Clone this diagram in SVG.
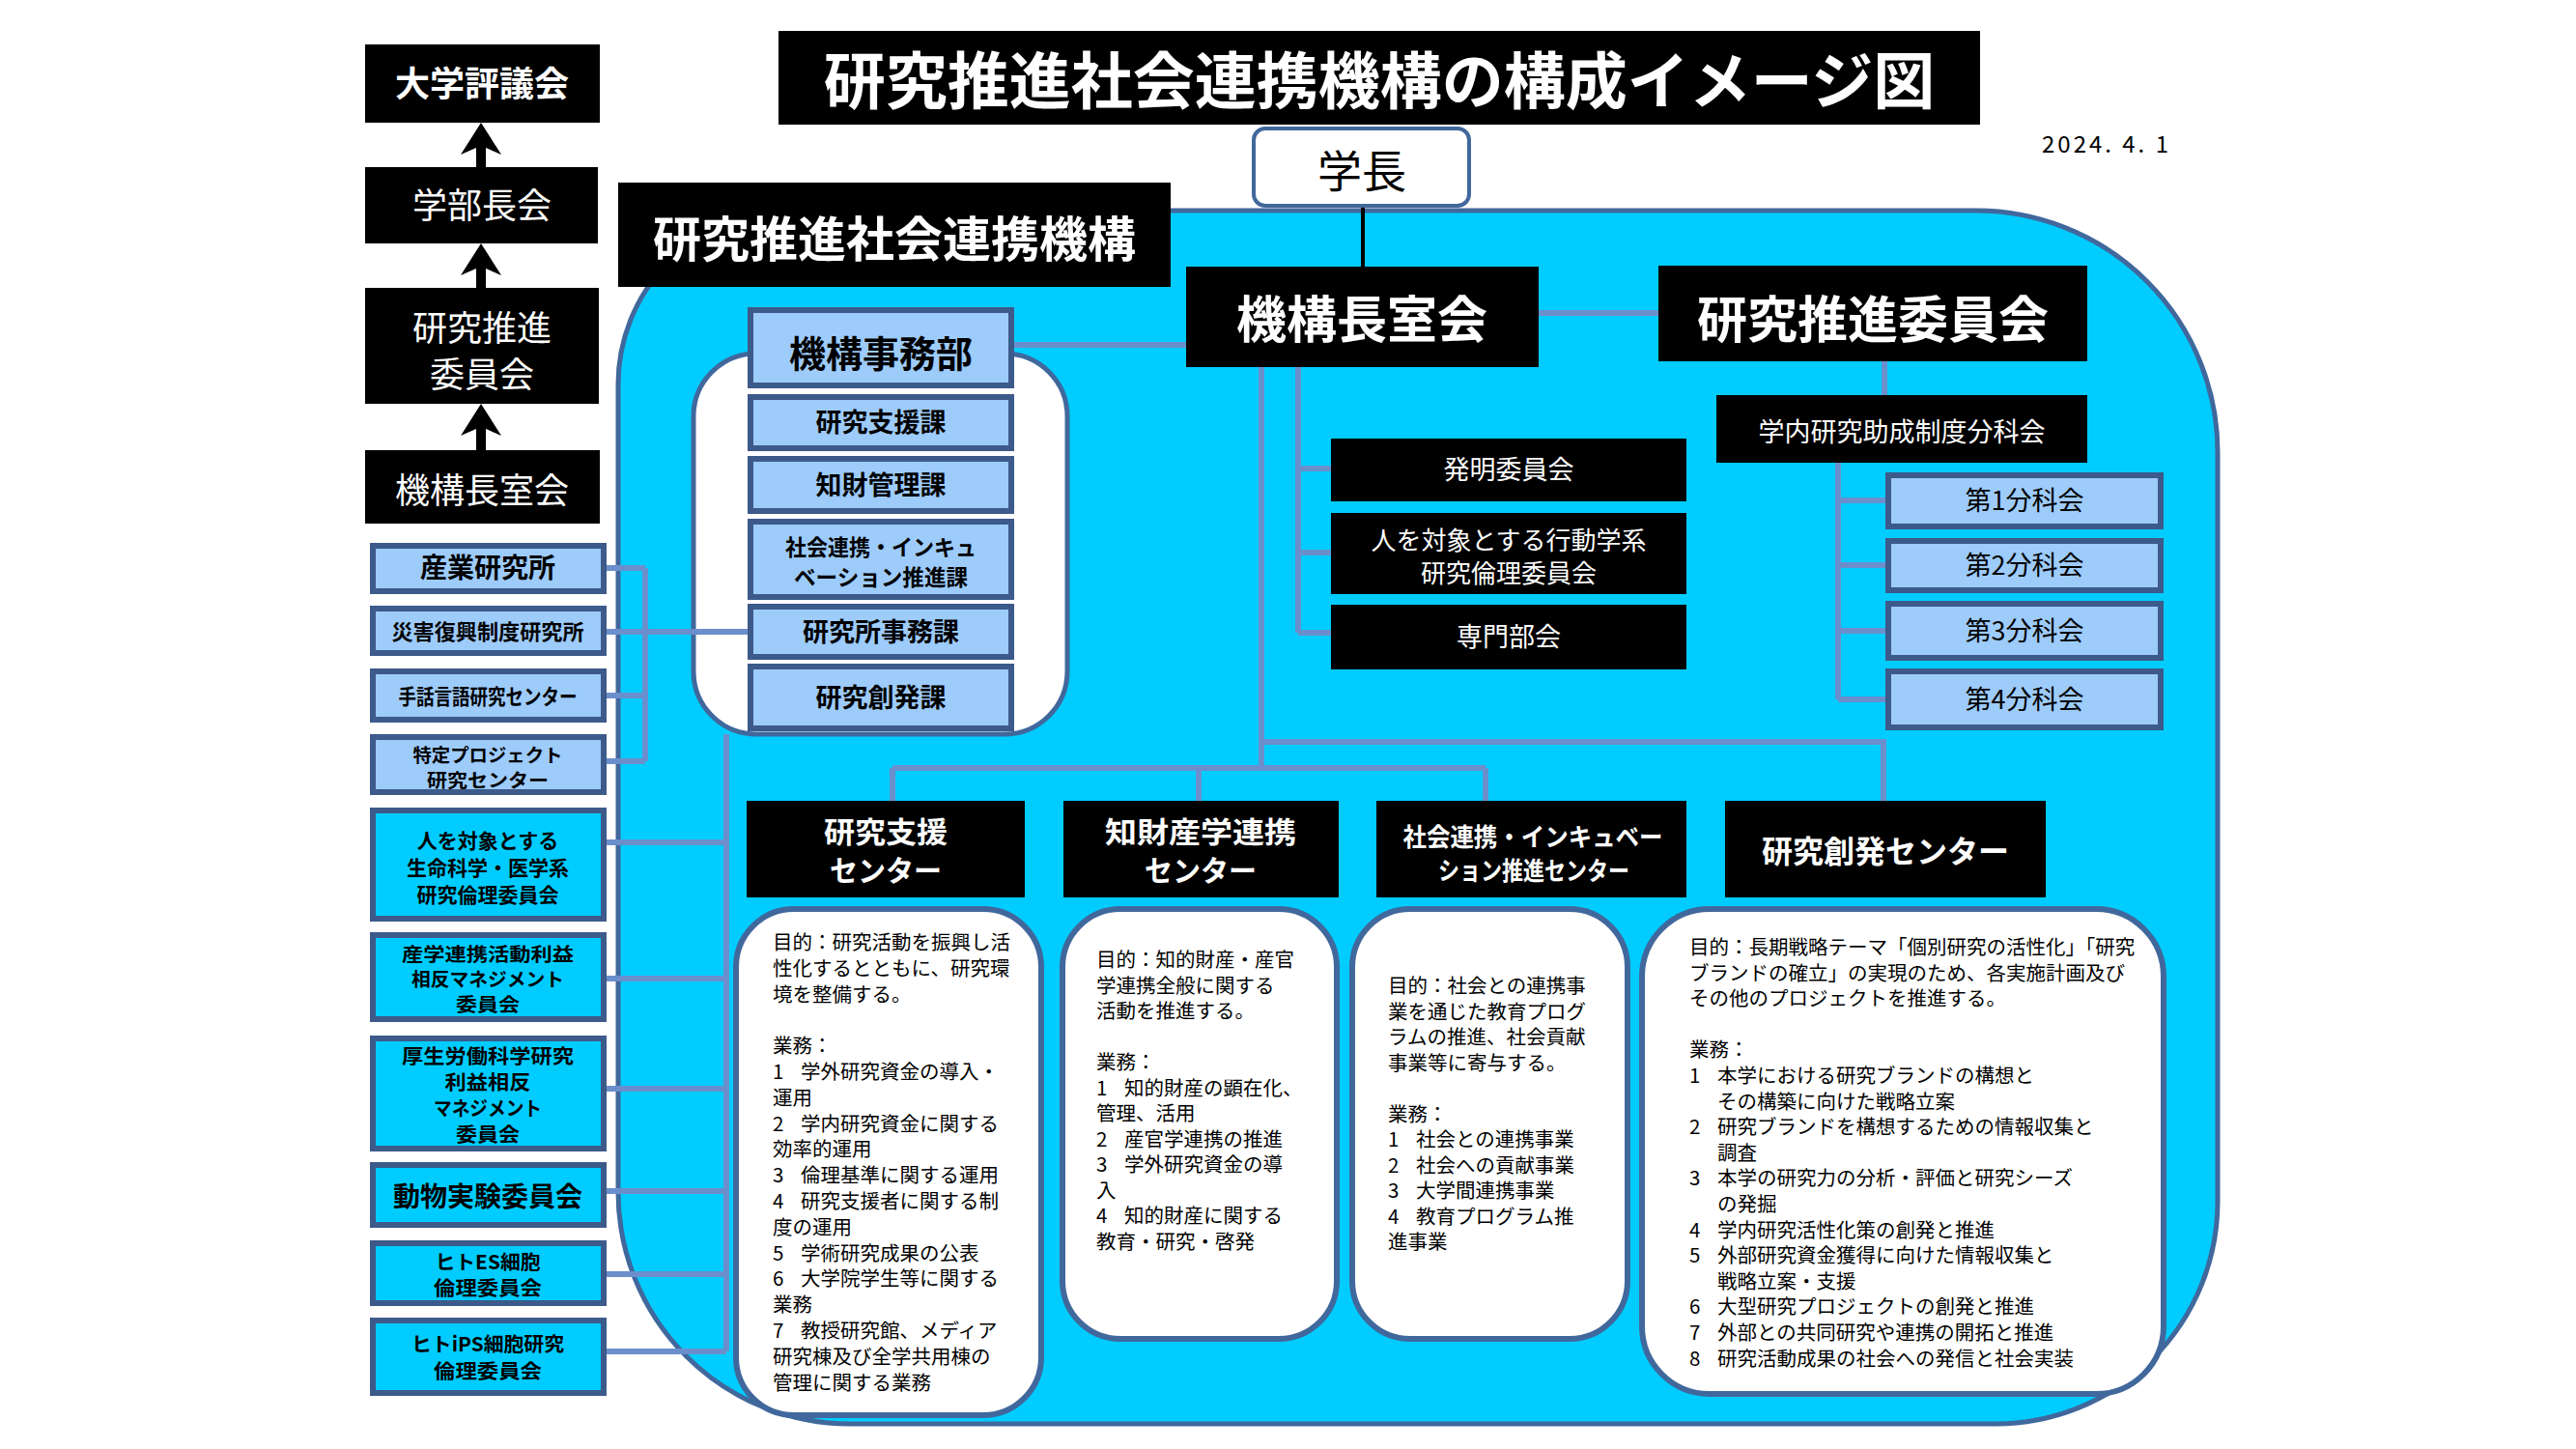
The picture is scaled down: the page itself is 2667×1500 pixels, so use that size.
<svg xmlns="http://www.w3.org/2000/svg" width="2667" height="1500" viewBox="0 0 2667 1500">
<style>
text{font-family:"Noto Sans CJK JP","Noto Sans",sans-serif}
.conn{stroke:#6B8FCC;stroke-width:6;fill:none}
.blk{fill:#000}
.lb{fill:#9DCBFA;stroke:#3C5A8A;stroke-width:6}
.cy{fill:#00CCFF;stroke:#3C5A8A;stroke-width:6}
.wb{fill:#fff;stroke:#41689C;stroke-width:6}
.wt{fill:#fff;text-anchor:middle}
.bt{fill:#000;text-anchor:middle}
.b{font-weight:700}
.ct{fill:#000;font-size:20.5px}
</style>
<rect width="2667" height="1500" fill="#fff"/>

<!-- background region -->
<path d="M820,218 H2046 A250,250 0 0 1 2296,468 V1244 A230,230 0 0 1 2066,1474 H880 A240,240 0 0 1 640,1234 V398 A180,180 0 0 1 820,218 Z" fill="#00CCFF" stroke="#41689C" stroke-width="5"/>
<rect x="718" y="366" width="387" height="394" rx="65" fill="#fff" stroke="#41689C" stroke-width="5"/>

<g id="connectors">
<path class="conn" d="M1593,324 H1717"/>
<path class="conn" d="M1951,374 V409"/>
<path class="conn" d="M1903,479 V724 M1903,518 H1952 M1903,585 H1952 M1903,653 H1952 M1903,724 H1952"/>
<path class="conn" d="M1344,380 V655 M1344,485 H1378 M1344,572 H1378 M1344,655 H1378"/>
<path class="conn" d="M1306,380 V795 M924,795 H1538 M924,795 V830 M1241,795 V830 M1538,795 V830"/>
<path class="conn" d="M1306,768 H1950 V830"/>
<path class="conn" d="M1050,357 H1228"/>
<path class="conn" d="M628,588 H668 M628,654 H774 M628,720 H668 M628,788 H668 M668,588 V788"/>
<path class="conn" d="M752,760 V1399 M628,872 H752 M628,1013 H752 M628,1127 H752 M628,1233 H752 M628,1319 H752 M628,1399 H752"/>
<path d="M1411,213 V276" stroke="#000" stroke-width="4"/>
<path class="blk" d="M498,127 L519,160 L503,153 V173 H493 V153 L477,160 Z"/>
<path class="blk" d="M498,252 L519,285 L503,278 V298 H493 V278 L477,285 Z"/>
<path class="blk" d="M498,418 L519,451 L503,444 V466 H493 V444 L477,451 Z"/>
</g>

<g id="title">
<rect class="blk" x="806" y="32" width="1244" height="97"/>
<text class="wt b" x="1428" y="107" font-size="64">研究推進社会連携機構の構成イメージ図</text>
</g>
<text x="2114" y="158" font-size="24" fill="#000" textLength="131" lengthAdjust="spacing">2024. 4. 1</text>

<g id="n-daigaku-hyogikai"><rect class="blk" x="378" y="46" width="243" height="81"/><text class="wt b" x="499" y="100" font-size="36">大学評議会</text></g>
<g id="n-gakubuchokai"><rect class="blk" x="378" y="173" width="241" height="79"/><text class="wt" x="499" y="226" font-size="36">学部長会</text></g>
<g id="n-kenkyu-suishin-iinkai-left"><rect class="blk" x="378" y="298" width="242" height="120"/><text class="wt" x="499" y="353" font-size="36">研究推進</text><text class="wt" x="499" y="401" font-size="36">委員会</text></g>
<g id="n-kikochoshitsukai-left"><rect class="blk" x="378" y="466" width="243" height="76"/><text class="wt" x="499" y="521" font-size="36">機構長室会</text></g>

<g id="n-gakucho"><rect x="1298" y="133" width="223" height="80" rx="12" fill="#fff" stroke="#41689C" stroke-width="4"/><text class="bt" x="1410" y="194" font-size="46">学長</text></g>

<g id="n-kiko-label"><rect class="blk" x="640" y="189" width="572" height="108"/><text class="wt b" x="926" y="266" font-size="50">研究推進社会連携機構</text></g>

<g id="n-kikochoshitsukai"><rect class="blk" x="1228" y="276" width="365" height="104"/><text class="wt b" x="1410" y="350" font-size="52">機構長室会</text></g>
<g id="n-kenkyu-suishin-iinkai"><rect class="blk" x="1717" y="275" width="444" height="99"/><text class="wt b" x="1939" y="350" font-size="52">研究推進委員会</text></g>
<g id="n-gakunai"><rect class="blk" x="1777" y="409" width="384" height="70"/><text class="wt" x="1969" y="457" font-size="27">学内研究助成制度分科会</text></g>

<g id="n-bunkakai1"><rect class="lb" x="1955" y="492" width="282" height="53"/><text class="bt" x="2096" y="528" font-size="27">第1分科会</text></g>
<g id="n-bunkakai2"><rect class="lb" x="1955" y="560" width="282" height="51"/><text class="bt" x="2096" y="595" font-size="27">第2分科会</text></g>
<g id="n-bunkakai3"><rect class="lb" x="1955" y="625" width="282" height="56"/><text class="bt" x="2096" y="663" font-size="27">第3分科会</text></g>
<g id="n-bunkakai4"><rect class="lb" x="1955" y="695" width="282" height="58"/><text class="bt" x="2096" y="734" font-size="27">第4分科会</text></g>

<g id="n-hatsumei"><rect class="blk" x="1378" y="454" width="368" height="65"/><text class="wt" x="1562" y="496" font-size="27">発明委員会</text></g>
<g id="n-kodogaku"><rect class="blk" x="1378" y="531" width="368" height="84"/><text class="wt" x="1562" y="569" font-size="26">人を対象とする行動学系</text><text class="wt" x="1562" y="603" font-size="26">研究倫理委員会</text></g>
<g id="n-senmon"><rect class="blk" x="1378" y="626" width="368" height="67"/><text class="wt" x="1562" y="669" font-size="27">専門部会</text></g>

<g id="n-jimubu"><rect class="lb" x="777" y="321" width="270" height="78"/><text class="bt b" x="912" y="380" font-size="38">機構事務部</text></g>
<g id="n-shienka"><rect class="lb" x="777" y="411" width="270" height="53"/><text class="bt b" x="912" y="447" font-size="27">研究支援課</text></g>
<g id="n-chizaika"><rect class="lb" x="777" y="475" width="270" height="54"/><text class="bt b" x="912" y="512" font-size="27">知財管理課</text></g>
<g id="n-shakaika"><rect class="lb" x="777" y="540" width="270" height="78"/><text class="bt b" x="912" y="575" font-size="23" textLength="198" lengthAdjust="spacingAndGlyphs">社会連携・インキュ</text><text class="bt b" x="912" y="606" font-size="23" textLength="180" lengthAdjust="spacingAndGlyphs">ベーション推進課</text></g>
<g id="n-jimuka"><rect class="lb" x="777" y="628" width="270" height="52"/><text class="bt b" x="912" y="664" font-size="27">研究所事務課</text></g>
<g id="n-sohatsuka"><rect class="lb" x="777" y="690" width="270" height="64"/><text class="bt b" x="912" y="732" font-size="27">研究創発課</text></g>

<g id="n-sangyo"><rect class="lb" x="386" y="565" width="239" height="47"/><text class="bt b" x="505" y="598" font-size="28">産業研究所</text></g>
<g id="n-saigai"><rect class="lb" x="386" y="630" width="239" height="46"/><text class="bt b" x="505" y="662" font-size="22" textLength="199" lengthAdjust="spacingAndGlyphs">災害復興制度研究所</text></g>
<g id="n-shuwa"><rect class="lb" x="386" y="695" width="239" height="50"/><text class="bt b" x="505" y="729" font-size="22" textLength="185" lengthAdjust="spacingAndGlyphs">手話言語研究センター</text></g>
<g id="n-tokutei"><rect class="lb" x="386" y="763" width="239" height="57"/><text class="bt b" x="505" y="789" font-size="19" textLength="155" lengthAdjust="spacingAndGlyphs">特定プロジェクト</text><text class="bt b" x="505" y="815" font-size="19" textLength="126" lengthAdjust="spacingAndGlyphs">研究センター</text></g>
<g id="n-seimei"><rect class="cy" x="386" y="839" width="239" height="112"/><text class="bt b" x="505" y="878" font-size="21">人を対象とする</text><text class="bt b" x="505" y="906" font-size="21">生命科学・医学系</text><text class="bt b" x="505" y="934" font-size="21">研究倫理委員会</text></g>
<g id="n-sangaku-coi"><rect class="cy" x="386" y="968" width="239" height="87"/><text class="bt b" x="505" y="995" font-size="19.5" textLength="178" lengthAdjust="spacingAndGlyphs">産学連携活動利益</text><text class="bt b" x="505" y="1021" font-size="19.5" textLength="158" lengthAdjust="spacingAndGlyphs">相反マネジメント</text><text class="bt b" x="505" y="1047" font-size="19.5" textLength="66" lengthAdjust="spacingAndGlyphs">委員会</text></g>
<g id="n-kosei"><rect class="cy" x="386" y="1075" width="239" height="114"/><text class="bt b" x="505" y="1101" font-size="20.5" textLength="178" lengthAdjust="spacingAndGlyphs">厚生労働科学研究</text><text class="bt b" x="505" y="1128" font-size="20.5" textLength="89" lengthAdjust="spacingAndGlyphs">利益相反</text><text class="bt b" x="505" y="1155" font-size="20.5" textLength="112" lengthAdjust="spacingAndGlyphs">マネジメント</text><text class="bt b" x="505" y="1182" font-size="20.5" textLength="66" lengthAdjust="spacingAndGlyphs">委員会</text></g>
<g id="n-dobutsu"><rect class="cy" x="386" y="1206" width="239" height="62"/><text class="bt b" x="505" y="1249" font-size="28">動物実験委員会</text></g>
<g id="n-es"><rect class="cy" x="386" y="1287" width="239" height="62"/><text class="bt b" x="505" y="1314" font-size="20" textLength="109" lengthAdjust="spacingAndGlyphs">ヒトES細胞</text><text class="bt b" x="505" y="1341" font-size="20" textLength="112" lengthAdjust="spacingAndGlyphs">倫理委員会</text></g>
<g id="n-ips"><rect class="cy" x="386" y="1367" width="239" height="75"/><text class="bt b" x="505" y="1399" font-size="20.5" textLength="158" lengthAdjust="spacingAndGlyphs">ヒトiPS細胞研究</text><text class="bt b" x="505" y="1427" font-size="20.5" textLength="112" lengthAdjust="spacingAndGlyphs">倫理委員会</text></g>

<g id="n-shien-center">
<rect class="blk" x="773" y="829" width="288" height="100"/>
<text class="wt b" x="917" y="872" font-size="30" textLength="128" lengthAdjust="spacingAndGlyphs">研究支援</text><text class="wt b" x="917" y="912" font-size="30" textLength="116" lengthAdjust="spacingAndGlyphs">センター</text>
<rect class="wb" x="762" y="941" width="316" height="524" rx="60"/>
<text class="ct">
<tspan x="800" y="983">目的：研究活動を振興し活</tspan>
<tspan x="800" y="1009.8">性化するとともに、研究環</tspan>
<tspan x="800" y="1036.6">境を整備する。</tspan>
<tspan x="800" y="1090.2">業務：</tspan>
<tspan x="800" y="1117">1</tspan><tspan x="829" y="1117">学外研究資金の導入・</tspan>
<tspan x="800" y="1143.8">運用</tspan>
<tspan x="800" y="1170.6">2</tspan><tspan x="829" y="1170.6">学内研究資金に関する</tspan>
<tspan x="800" y="1197.4">効率的運用</tspan>
<tspan x="800" y="1224.2">3</tspan><tspan x="829" y="1224.2">倫理基準に関する運用</tspan>
<tspan x="800" y="1251">4</tspan><tspan x="829" y="1251">研究支援者に関する制</tspan>
<tspan x="800" y="1277.8">度の運用</tspan>
<tspan x="800" y="1304.6">5</tspan><tspan x="829" y="1304.6">学術研究成果の公表</tspan>
<tspan x="800" y="1331.4">6</tspan><tspan x="829" y="1331.4">大学院学生等に関する</tspan>
<tspan x="800" y="1358.2">業務</tspan>
<tspan x="800" y="1385">7</tspan><tspan x="829" y="1385">教授研究館、メディア</tspan>
<tspan x="800" y="1411.8">研究棟及び全学共用棟の</tspan>
<tspan x="800" y="1438.6">管理に関する業務</tspan>
</text>
</g>

<g id="n-chizai-center">
<rect class="blk" x="1101" y="829" width="285" height="100"/>
<text class="wt b" x="1243" y="872" font-size="30" textLength="198" lengthAdjust="spacingAndGlyphs">知財産学連携</text><text class="wt b" x="1243" y="912" font-size="30" textLength="116" lengthAdjust="spacingAndGlyphs">センター</text>
<rect class="wb" x="1100" y="941" width="284" height="445" rx="60"/>
<text class="ct">
<tspan x="1135" y="1001">目的：知的財産・産官</tspan>
<tspan x="1135" y="1027.5">学連携全般に関する</tspan>
<tspan x="1135" y="1054">活動を推進する。</tspan>
<tspan x="1135" y="1107">業務：</tspan>
<tspan x="1135" y="1133.5">1</tspan><tspan x="1164" y="1133.5">知的財産の顕在化、</tspan>
<tspan x="1135" y="1160">管理、活用</tspan>
<tspan x="1135" y="1186.5">2</tspan><tspan x="1164" y="1186.5">産官学連携の推進</tspan>
<tspan x="1135" y="1213">3</tspan><tspan x="1164" y="1213">学外研究資金の導</tspan>
<tspan x="1135" y="1239.5">入</tspan>
<tspan x="1135" y="1266">4</tspan><tspan x="1164" y="1266">知的財産に関する</tspan>
<tspan x="1135" y="1292.5">教育・研究・啓発</tspan>
</text>
</g>

<g id="n-shakai-center">
<rect class="blk" x="1425" y="829" width="321" height="100"/>
<text class="wt b" x="1587" y="876" font-size="26" textLength="269" lengthAdjust="spacingAndGlyphs">社会連携・インキュベー</text><text class="wt b" x="1588" y="911" font-size="26" textLength="198" lengthAdjust="spacingAndGlyphs">ション推進センター</text>
<rect class="wb" x="1400" y="941" width="285" height="445" rx="60"/>
<text class="ct">
<tspan x="1437" y="1028">目的：社会との連携事</tspan>
<tspan x="1437" y="1054.5">業を通じた教育プログ</tspan>
<tspan x="1437" y="1081">ラムの推進、社会貢献</tspan>
<tspan x="1437" y="1107.5">事業等に寄与する。</tspan>
<tspan x="1437" y="1160.5">業務：</tspan>
<tspan x="1437" y="1187">1</tspan><tspan x="1466" y="1187">社会との連携事業</tspan>
<tspan x="1437" y="1213.5">2</tspan><tspan x="1466" y="1213.5">社会への貢献事業</tspan>
<tspan x="1437" y="1240">3</tspan><tspan x="1466" y="1240">大学間連携事業</tspan>
<tspan x="1437" y="1266.5">4</tspan><tspan x="1466" y="1266.5">教育プログラム推</tspan>
<tspan x="1437" y="1293">進事業</tspan>
</text>
</g>

<g id="n-sohatsu-center">
<rect class="blk" x="1786" y="829" width="332" height="100"/>
<text class="wt b" x="1952" y="893" font-size="32">研究創発センター</text>
<rect class="wb" x="1700" y="941" width="540" height="502" rx="70"/>
<text class="ct" font-size="20">
<tspan x="1749" y="988">目的：長期戦略テーマ「個別研究の活性化」「研究</tspan>
<tspan x="1749" y="1014.6">ブランドの確立」の実現のため、各実施計画及び</tspan>
<tspan x="1749" y="1041.2">その他のプロジェクトを推進する。</tspan>
<tspan x="1749" y="1094.4">業務：</tspan>
<tspan x="1749" y="1121">1</tspan><tspan x="1778" y="1121">本学における研究ブランドの構想と</tspan>
<tspan x="1778" y="1147.6">その構築に向けた戦略立案</tspan>
<tspan x="1749" y="1174.2">2</tspan><tspan x="1778" y="1174.2">研究ブランドを構想するための情報収集と</tspan>
<tspan x="1778" y="1200.8">調査</tspan>
<tspan x="1749" y="1227.4">3</tspan><tspan x="1778" y="1227.4">本学の研究力の分析・評価と研究シーズ</tspan>
<tspan x="1778" y="1254">の発掘</tspan>
<tspan x="1749" y="1280.6">4</tspan><tspan x="1778" y="1280.6">学内研究活性化策の創発と推進</tspan>
<tspan x="1749" y="1307.2">5</tspan><tspan x="1778" y="1307.2">外部研究資金獲得に向けた情報収集と</tspan>
<tspan x="1778" y="1333.8">戦略立案・支援</tspan>
<tspan x="1749" y="1360.4">6</tspan><tspan x="1778" y="1360.4">大型研究プロジェクトの創発と推進</tspan>
<tspan x="1749" y="1387">7</tspan><tspan x="1778" y="1387">外部との共同研究や連携の開拓と推進</tspan>
<tspan x="1749" y="1413.6">8</tspan><tspan x="1778" y="1413.6">研究活動成果の社会への発信と社会実装</tspan>
</text>
</g>
</svg>
